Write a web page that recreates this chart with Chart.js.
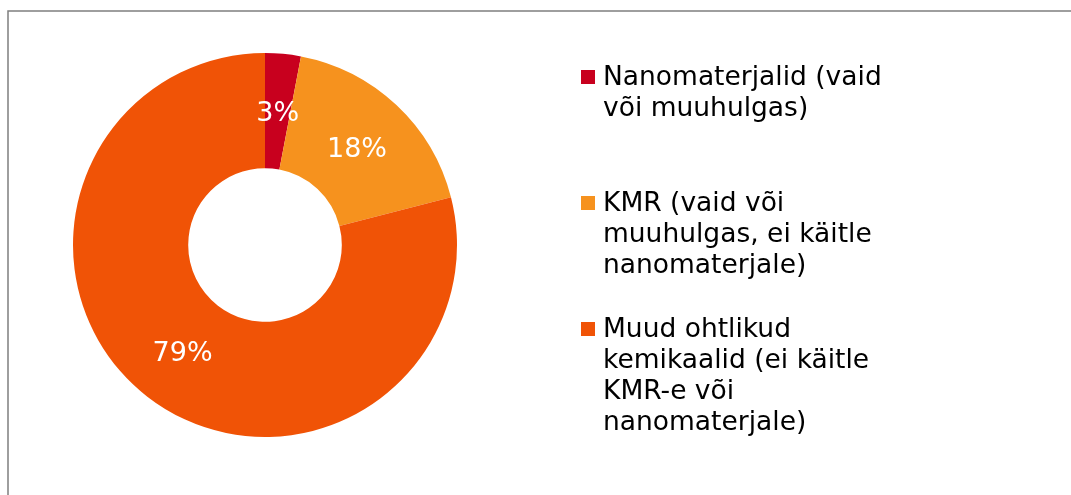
<!DOCTYPE html>
<html lang="et">
<head>
    <meta charset="UTF-8">
    <title>Ohtlikud kemikaalid</title>
    <script src="https://cdn.jsdelivr.net/npm/chart.js"></script>
    <style>
        html, body { margin: 0; padding: 0; background: #fff; }
        #wrap { width: 1071px; height: 495px; }
    </style>
</head>
<body>
    <div id="wrap"><canvas id="shareChart" width="1071" height="495"></canvas></div>

    <script>
    // categories (already wrapped the way the legend shows them)
    const categories = [
        ['Nanomaterjalid (vaid', 'või muuhulgas)'],
        ['KMR (vaid või', 'muuhulgas, ei käitle', 'nanomaterjale)'],
        ['Muud ohtlikud', 'kemikaalid (ei käitle', 'KMR-e või', 'nanomaterjale)']
    ];
    const shares = [3, 18, 79];
    const sliceColors = ['#C8001E', '#F6921E', '#F05306'];

    const FONT = '"DejaVu Sans", Verdana, sans-serif';

    // gray frame round the plot
    const framePlugin = {
        id: 'frame',
        beforeDraw(chart) {
            const ctx = chart.ctx;
            ctx.save();
            ctx.strokeStyle = '#7f7f7f';
            ctx.lineWidth = 1.5;
            ctx.strokeRect(8, 11, 1100, 520);
            ctx.restore();
        }
    };

    // percentage labels inside slices
    const sliceLabels = {
        id: 'sliceLabels',
        afterDatasetsDraw(chart) {
            const ctx = chart.ctx;
            const meta = chart.getDatasetMeta(0);
            ctx.save();
            ctx.font = '27px ' + FONT;
            ctx.fillStyle = '#fff';
            ctx.textAlign = 'center';
            ctx.textBaseline = 'middle';
            meta.data.forEach((arc, i) => {
                const p = arc.getCenterPoint();
                ctx.fillText(shares[i] + '%', p.x, p.y + 3);
            });
            ctx.restore();
        }
    };

    // legend on the right, drawn by hand so lines wrap like the original
    const sideLegend = {
        id: 'sideLegend',
        afterDraw(chart) {
            const ctx = chart.ctx;
            const tops = [77, 203, 329];
            const lineH = 31;
            ctx.save();
            ctx.font = '26.5px ' + FONT;
            ctx.textBaseline = 'middle';
            ctx.textAlign = 'left';
            categories.forEach((lines, i) => {
                ctx.fillStyle = sliceColors[i];
                ctx.fillRect(581, tops[i] - 7, 14, 14);
                ctx.fillStyle = '#000';
                lines.forEach((t, j) => ctx.fillText(t, 603, tops[i] + 1 + j * lineH));
            });
            ctx.restore();
        }
    };

    new Chart(document.getElementById('shareChart'), {
        type: 'doughnut',
        data: {
            labels: categories.map(l => l.join(' ')),
            datasets: [{
                data: shares,
                backgroundColor: sliceColors,
                borderWidth: 0
            }]
        },
        options: {
            responsive: false,
            animation: false,
            cutout: '40%',
            layout: { padding: { top: 53, bottom: 58, left: 73, right: 614 } },
            plugins: {
                legend: { display: false },
                tooltip: { enabled: false }
            }
        },
        plugins: [framePlugin, sliceLabels, sideLegend]
    });
    </script>
</body>
</html>
